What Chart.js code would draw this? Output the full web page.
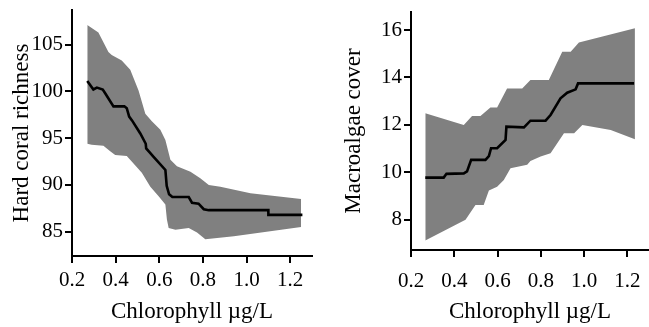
<!DOCTYPE html>
<html lang="en">
<head>
  <meta charset="UTF-8">
  <title>Chlorophyll partial plots</title>
  <script src="https://cdn.jsdelivr.net/npm/chart.js"></script>
  <style>
    body { margin: 0; background: #fff; }
    .panel { position: absolute; top: 0; height: 327px; }
    #left { left: 0; width: 320px; }
    #right { left: 324px; width: 325px; }
  </style>
</head>
<body>
  <div class="panel" id="left"><canvas id="coral"></canvas></div>
  <div class="panel" id="right"><canvas id="algae"></canvas></div>

  <script>
    // hard coral richness vs chlorophyll
    const coralMeanX = [0.27, 0.298, 0.314, 0.341, 0.352, 0.39, 0.44, 0.451, 0.462, 0.475, 0.513, 0.538, 0.540, 0.574, 0.628, 0.634, 0.645, 0.66, 0.735, 0.75, 0.78, 0.804, 0.827, 1.10, 1.10, 1.256];
    const coralMeanY = [101.1, 100.2, 100.4, 100.2, 99.8, 98.4, 98.4, 98.2, 97.3, 96.9, 95.5, 94.4, 93.9, 93.0, 91.6, 89.9, 89.0, 88.7, 88.7, 88.1, 88.0, 87.4, 87.3, 87.3, 86.8, 86.8];
    const coralUpperX = [0.27, 0.321, 0.367, 0.382, 0.428, 0.467, 0.505, 0.536, 0.566, 0.605, 0.628, 0.651, 0.681, 0.743, 0.788, 0.827, 0.88, 1.018, 1.25];
    const coralUpperY = [107.1, 106.3, 104.2, 103.9, 103.3, 102.3, 100.1, 97.6, 96.8, 95.9, 94.8, 92.7, 92.0, 91.4, 90.7, 90.0, 89.8, 89.1, 88.5];
    const coralLowerX = [0.27, 0.29, 0.344, 0.375, 0.398, 0.451, 0.482, 0.52, 0.559, 0.597, 0.628, 0.635, 0.643, 0.674, 0.735, 0.773, 0.811, 0.942, 1.25];
    const coralLowerY = [94.4, 94.3, 94.2, 93.6, 93.2, 93.1, 92.3, 91.3, 89.8, 88.8, 87.9, 86.3, 85.4, 85.2, 85.4, 84.9, 84.2, 84.5, 85.5];
    const coralTicks = [85, 90, 95, 100, 105];

    // macroalgae cover vs chlorophyll
    const algaeMeanX = [0.266, 0.351, 0.364, 0.444, 0.459, 0.478, 0.544, 0.56, 0.57, 0.598, 0.637, 0.641, 0.722, 0.752, 0.822, 0.845, 0.891, 0.922, 0.961, 0.972, 1.231];
    const algaeMeanY = [9.78, 9.78, 9.94, 9.96, 10.04, 10.53, 10.53, 10.69, 11.02, 11.02, 11.37, 11.93, 11.90, 12.18, 12.18, 12.42, 13.12, 13.36, 13.50, 13.75, 13.75];
    const algaeUpperX = [0.266, 0.444, 0.482, 0.521, 0.567, 0.598, 0.644, 0.714, 0.752, 0.837, 0.899, 0.938, 0.976, 1.235];
    const algaeUpperY = [12.49, 12.0, 12.38, 12.38, 12.74, 12.74, 13.54, 13.54, 13.89, 13.89, 15.09, 15.09, 15.47, 16.07];
    const algaeLowerX = [0.266, 0.452, 0.498, 0.536, 0.56, 0.598, 0.629, 0.66, 0.737, 0.752, 0.799, 0.845, 0.907, 0.954, 0.992, 1.123, 1.235];
    const algaeLowerY = [7.13, 8.0, 8.63, 8.63, 9.24, 9.40, 9.68, 10.18, 10.32, 10.48, 10.67, 10.81, 11.65, 11.65, 12.0, 11.79, 11.40];
    const algaeTicks = [8, 10, 12, 14, 16];

    const chlTicks = [0.2, 0.4, 0.6, 0.8, 1.0, 1.2];
    const xTitle = 'Chlorophyll \u00b5g/L';

    const serif = 'Liberation Serif';
    const pts = (xs, ys) => xs.map((x, i) => ({ x: x, y: ys[i] }));

    function makeChart(id, o) {
      new Chart(document.getElementById(id), {
        type: 'line',
        data: {
          datasets: [
            // mean line on top (lowest order is drawn last)
            { data: pts(o.mX, o.mY), order: 0, borderColor: '#000', borderWidth: 2.6, pointRadius: 0, fill: false, tension: 0 },
            { data: pts(o.upX, o.upY), order: 1, borderWidth: 0, pointRadius: 0, fill: '+1', backgroundColor: '#808080' },
            { data: pts(o.loX, o.loY), order: 2, borderWidth: 0, pointRadius: 0, fill: false }
          ]
        },
        options: {
          responsive: true,
          maintainAspectRatio: false,
          animation: false,
          events: [],
          layout: { padding: o.pad },
          plugins: { legend: { display: false }, tooltip: { enabled: false } },
          scales: {
            x: {
              type: 'linear',
              min: 0.2, max: 1.3,
              border: { color: '#000', width: 2 },
              grid: { drawOnChartArea: false, color: '#000', lineWidth: 2, tickLength: 7 },
              ticks: {
                color: '#000', padding: o.xPad, maxRotation: 0,
                font: { family: serif, size: 21 },
                callback: v => v.toFixed(1)
              },
              afterBuildTicks: s => { s.ticks = chlTicks.map(v => ({ value: v })); },
              afterFit: s => { s.height = o.xH; s.paddingLeft = 0; s.paddingRight = 0; },
              title: {
                display: true, text: xTitle, color: '#000',
                font: { family: serif, size: 23, lineHeight: 1.2 },
                padding: { top: 0, bottom: 1 }
              }
            },
            y: {
              type: 'linear',
              min: o.yMin, max: o.yMax,
              border: { color: '#000', width: 2 },
              grid: { drawOnChartArea: false, color: '#000', lineWidth: 2, tickLength: 7 },
              ticks: {
                color: '#000', padding: 2,
                font: { family: serif, size: 21 }
              },
              afterBuildTicks: s => { s.ticks = o.yTicks.map(v => ({ value: v })); },
              afterFit: s => { s.width = o.yW; s.paddingTop = 0; s.paddingBottom = 0; },
              title: {
                display: true, text: o.yTitle, color: '#000',
                font: { family: serif, size: 23, lineHeight: 1.2 },
                padding: { top: o.yTitlePad, bottom: 0 }
              }
            }
          }
        }
      });
    }

    makeChart('coral', {
      upX: coralUpperX, upY: coralUpperY, loX: coralLowerX, loY: coralLowerY,
      mX: coralMeanX, mY: coralMeanY,
      yMin: 82.4, yMax: 108.7, yTicks: coralTicks, yTitle: 'Hard coral richness',
      pad: { top: 10, right: 8, bottom: 0, left: 0 },
      xH: 71, yW: 72, xPad: 5, yTitlePad: 8
    });

    makeChart('algae', {
      upX: algaeUpperX, upY: algaeUpperY, loX: algaeLowerX, loY: algaeLowerY,
      mX: algaeMeanX, mY: algaeMeanY,
      yMin: 6.73, yMax: 16.76, yTicks: algaeTicks, yTitle: 'Macroalgae cover',
      pad: { top: 12, right: 0, bottom: 0, left: 0 },
      xH: 77, yW: 87, xPad: 12, yTitlePad: 16
    });
  </script>
</body>
</html>
